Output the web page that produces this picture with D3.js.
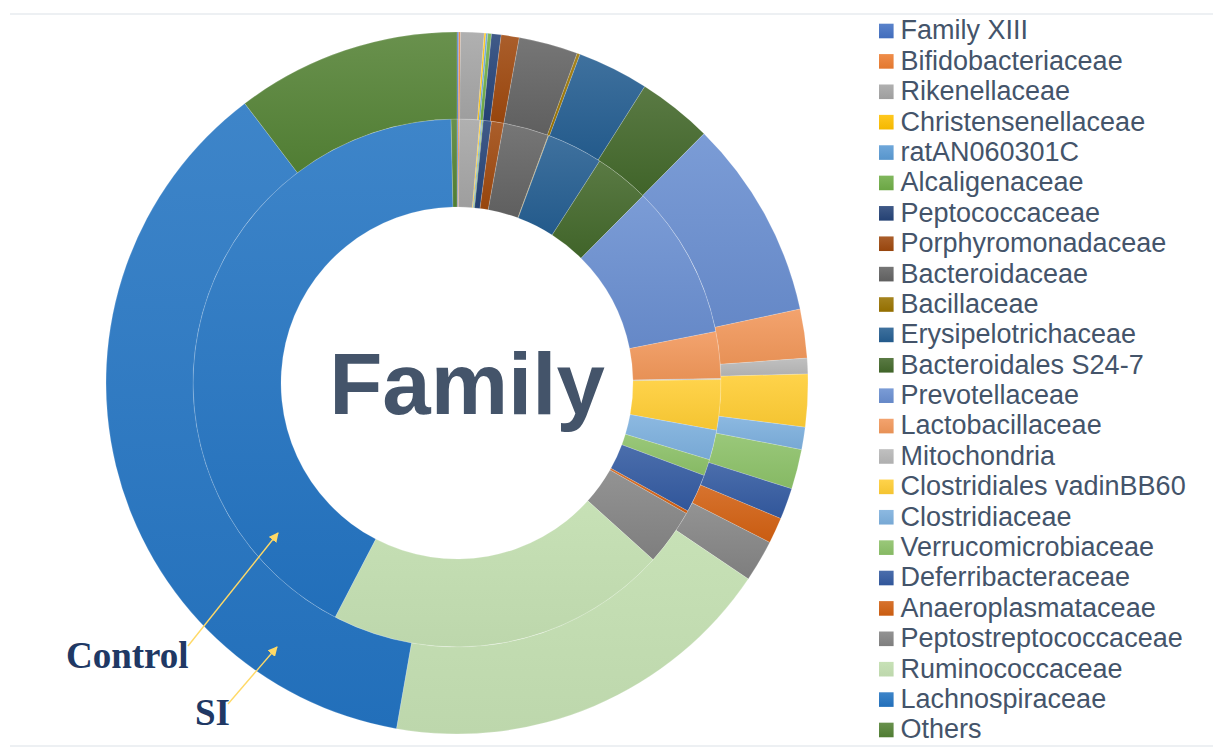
<!DOCTYPE html>
<html>
<head>
<meta charset="utf-8">
<script src="https://cdn.jsdelivr.net/npm/d3@7"></script>
<style>
  html, body { margin: 0; padding: 0; background: #ffffff; }
  svg { display: block; }
</style>
</head>
<body>
<svg id="chart" width="1215" height="753"></svg>
<script>
// ---- Data ----
const families = [
  "Family XIII", "Bifidobacteriaceae", "Rikenellaceae", "Christensenellaceae",
  "ratAN060301C", "Alcaligenaceae", "Peptococcaceae", "Porphyromonadaceae",
  "Bacteroidaceae", "Bacillaceae", "Erysipelotrichaceae", "Bacteroidales S24-7",
  "Prevotellaceae", "Lactobacillaceae", "Mitochondria", "Clostridiales vadinBB60",
  "Clostridiaceae", "Verrucomicrobiaceae", "Deferribacteraceae", "Anaeroplasmataceae",
  "Peptostreptococcaceae", "Ruminococcaceae", "Lachnospiraceae", "Others"
];
const colors = [
  "#4472C4", "#ED7D31", "#A5A5A5", "#FFC000",
  "#5B9BD5", "#70AD47", "#264478", "#9E480E",
  "#636363", "#997300", "#255E91", "#43682B",
  "#698ED0", "#F1975A", "#B7B7B7", "#FFCD33",
  "#7CAFDD", "#8CC168", "#335AA1", "#D26012",
  "#848484", "#C5E0B4", "#2474C2", "#548235"
];
// relative abundance (%) – inner ring
const controlValues = [
  0.07, 0.07, 1.25, 0.07, 0.07, 0.06, 0.50, 0.75,
  2.78, 0.03, 3.44, 3.36, 9.42, 2.86, 0.06, 3.08,
  1.83, 1.00, 2.36, 0.17, 3.44, 20.97, 42.00, 0.36
];
// relative abundance (%) – outer ring
const siValues = [
  0.08, 0.08, 1.08, 0.08, 0.08, 0.17, 0.44, 0.83,
  2.72, 0.14, 3.28, 3.44, 9.19, 2.25, 0.72, 2.42,
  1.03, 1.83, 1.44, 1.19, 1.92, 18.33, 36.89, 10.33
];
const ringLabels = ["Control", "SI"];
const centerTitle = "Family";

// ---- Layout ----
const svg = d3.select("#chart");
const cx = 457, cy = 383;
const rHole = 176, rMid = 264, rOuter = 351;
const textColor = "#44546A";

const defs = svg.append("defs");
function makeGradient(id, c, tint) {
  const g = defs.append("linearGradient").attr("id", id)
    .attr("x1", 0).attr("y1", 0).attr("x2", 0).attr("y2", 1);
  g.append("stop").attr("offset", "0%").attr("stop-color", d3.interpolateRgb(c, "#ffffff")(tint));
  g.append("stop").attr("offset", "100%").attr("stop-color", d3.color(c).darker(0.12).formatHex());
}
colors.forEach((c, i) => makeGradient("g" + i, c, i === 21 ? 0.03 : 0.12));

// frame lines
const frame = svg.append("g").attr("stroke", "#DCE1E7").attr("stroke-width", 1.2);
frame.append("line").attr("x1", 10).attr("x2", 1213).attr("y1", 14).attr("y2", 14);
frame.append("line").attr("x1", 10).attr("x2", 1213).attr("y1", 746).attr("y2", 746);

const pie = d3.pie().sort(null).value(d => d.v);
const g = svg.append("g").attr("transform", `translate(${cx},${cy})`);

function drawRing(values, r0, r1, cls) {
  const data = pie(values.map((v, i) => ({ v, i })));
  const arc = d3.arc().innerRadius(r0).outerRadius(r1);
  g.append("g").attr("class", cls)
    .selectAll("path").data(data).join("path")
    .attr("d", arc)
    .attr("fill", d => `url(#g${d.data.i})`)
    .attr("stroke", "rgba(255,255,255,0.28)")
    .attr("stroke-width", 0.6);
}
drawRing(controlValues, rHole, rMid, "control");
drawRing(siValues, rMid, rOuter, "si");

// center title
svg.append("text")
  .attr("x", 467).attr("y", 414)
  .attr("text-anchor", "middle")
  .attr("font-family", "Liberation Sans, Arial, sans-serif")
  .attr("font-weight", "bold")
  .attr("font-size", 87)
  .attr("fill", textColor)
  .text(centerTitle);

// legend
const legend = svg.append("g");
const legY0 = 31, legStep = 30.39;
families.forEach((name, i) => {
  const y = legY0 + i * legStep;
  legend.append("rect")
    .attr("x", 879).attr("y", y - 7.3).attr("width", 14.6).attr("height", 14.6)
    .attr("fill", `url(#g${i})`);
  legend.append("text")
    .attr("x", 900.5).attr("y", y + 8.4)
    .attr("font-family", "Liberation Sans, Arial, sans-serif")
    .attr("font-size", 27)
    .attr("fill", textColor)
    .text(name);
});

// ring labels and arrows
const arrowColor = "#FFD966";
defs.append("marker").attr("id", "arrowhead")
  .attr("viewBox", "0 0 10 10").attr("refX", 9).attr("refY", 5)
  .attr("markerWidth", 7).attr("markerHeight", 7).attr("orient", "auto")
  .append("path").attr("d", "M0,0 L10,5 L0,10 Z").attr("fill", arrowColor);

const labels = [
  { text: ringLabels[0], x: 66, y: 668, ax1: 188, ay1: 646, ax2: 278, ay2: 533 },
  { text: ringLabels[1], x: 195, y: 725, ax1: 228, ay1: 704, ax2: 277, ay2: 647 }
];
labels.forEach(l => {
  svg.append("line")
    .attr("x1", l.ax1).attr("y1", l.ay1).attr("x2", l.ax2).attr("y2", l.ay2)
    .attr("stroke", arrowColor).attr("stroke-width", 1.4)
    .attr("marker-end", "url(#arrowhead)");
  svg.append("text")
    .attr("x", l.x).attr("y", l.y)
    .attr("font-family", "Liberation Serif, Times New Roman, serif")
    .attr("font-weight", "bold")
    .attr("font-size", 37)
    .attr("fill", "#203864")
    .text(l.text);
});
</script>
</body>
</html>
